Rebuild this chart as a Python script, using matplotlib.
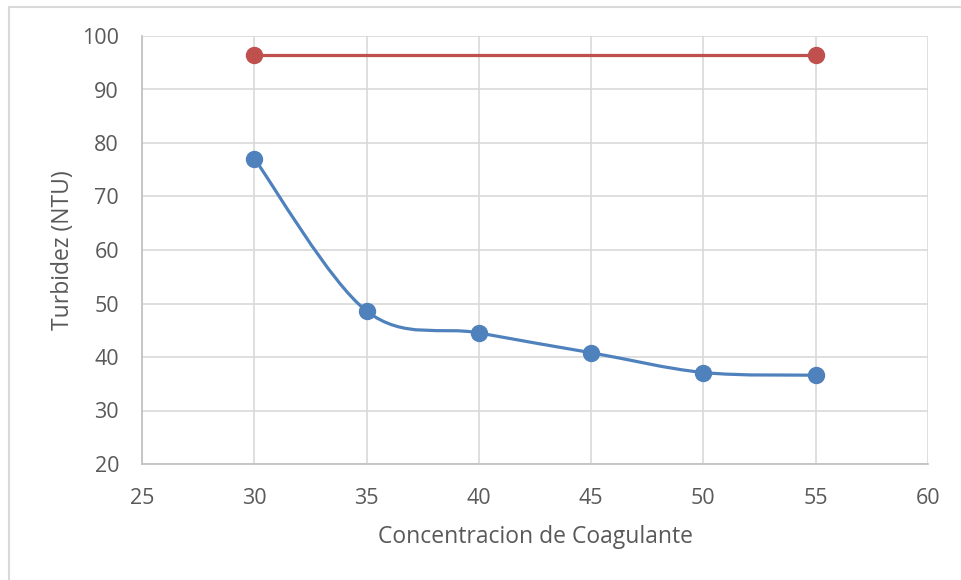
import matplotlib.pyplot as plt
import numpy as np
from matplotlib.path import Path
from matplotlib.patches import PathPatch

# datos
concentracion = [30, 35, 40, 45, 50, 55]
turbidez = [77.1, 48.6, 44.5, 40.8, 37.1, 36.6]
ref_x = [30, 55]
ref_y = [96.5, 96.5]

azul = '#4f81bd'
rojo = '#c0504d'
gris_txt = '#595959'

plt.rcParams['font.family'] = ['Open Sans', 'DejaVu Sans']


def curva_suave(xs, ys):
    # bezier tipo excel (catmull-rom, factor 1/6)
    p = np.column_stack([xs, ys]).astype(float)
    n = len(p)
    verts = [p[0]]
    codes = [Path.MOVETO]
    for i in range(n - 1):
        p0 = p[i - 1] if i > 0 else p[i]
        p1 = p[i]
        p2 = p[i + 1]
        p3 = p[i + 2] if i + 2 < n else p[i + 1]
        c1 = p1 + (p2 - p0) / 6
        c2 = p2 - (p3 - p1) / 6
        verts += [c1, c2, p2]
        codes += [Path.CURVE4] * 3
    return Path(verts, codes)


fig = plt.figure(figsize=(9.61, 5.8), dpi=100)
ax = fig.add_axes([142 / 961, 1 - 464 / 580, (928 - 142) / 961, (464 - 36) / 580])

ax.add_patch(PathPatch(curva_suave(concentracion, turbidez), fill=False,
                       edgecolor=azul, lw=2.3, zorder=3, capstyle='round'))
ax.plot(concentracion, turbidez, 'o', color=azul, ms=11.5, zorder=4)
ax.plot(ref_x, ref_y, '-o', color=rojo, lw=2.3, ms=11.5, zorder=4)

ax.set_xlim(25, 60)
ax.set_ylim(20, 100)
ax.set_xticks(range(25, 61, 5))
ax.set_yticks(range(20, 101, 10))
ax.grid(True, color='#d9d9d9', lw=1.2)
ax.set_axisbelow(True)
for s in ['top', 'right']:
    ax.spines[s].set_visible(False)
for s in ['left', 'bottom']:
    ax.spines[s].set_color('#bfbfbf')
    ax.spines[s].set_linewidth(1.2)
ax.tick_params(length=0, labelsize=15.5, colors=gris_txt)
ax.tick_params(axis='x', pad=17.5)
ax.tick_params(axis='y', pad=16.5)

ax.set_xlabel('Concentracion de Coagulante', fontsize=16.5, color=gris_txt, labelpad=11)
ax.set_ylabel('Turbidez (NTU)', fontsize=16.5, color=gris_txt, labelpad=5)

# borde del grafico (solo arriba e izquierda visibles)
fig.add_artist(plt.Line2D([9 / 961, 1], [1 - 7 / 580, 1 - 7 / 580], color='#d9d9d9', lw=1.5))
fig.add_artist(plt.Line2D([9 / 961, 9 / 961], [0, 1 - 7 / 580], color='#d9d9d9', lw=1.5))

fig.savefig('out.png', dpi=100)
plt.close()
